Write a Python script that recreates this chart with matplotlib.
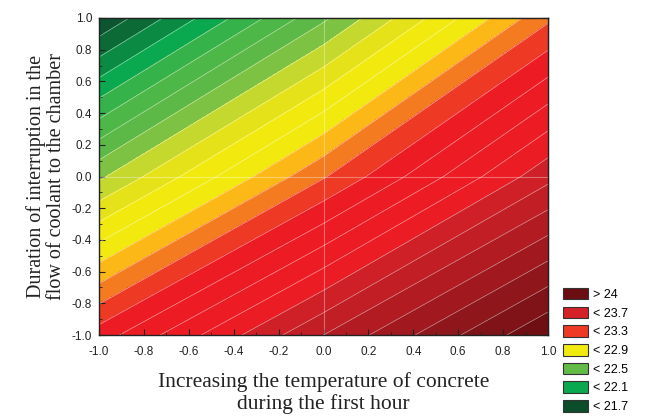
import matplotlib
matplotlib.use("Agg")
import matplotlib.pyplot as plt
from matplotlib.patches import Patch
import numpy as np

# response surface at the design points (-1, 0, 1)
x_nodes = [-1.0, 0.0, 1.0]
y_nodes = [-1.0, 0.0, 1.0]
# rows = y (from -1 to 1), cols = x (from -1 to 1)
z_grid = [
    [23.25, 23.80, 24.29],
    [22.48, 23.09, 23.67],
    [21.71, 22.38, 23.08],
]

levels = [21.6, 21.7, 21.8, 21.9, 22.0, 22.1, 22.2, 22.3, 22.4, 22.5,
          22.6, 22.7, 22.8, 22.9, 23.0, 23.1, 23.2, 23.3, 23.4, 23.5,
          23.6, 23.7, 23.8, 23.9, 24.0, 24.1, 24.2, 24.3, 24.4]
band_colors = ['#0a4526', '#0d5530', '#0c6a37', '#0b8a44', '#0aa84f', '#35b24a',
               '#4db748', '#5cb947', '#7dc242', '#c4d82d', '#e6e21a', '#f2ea0f',
               '#f2ea0f', '#fbb817', '#f47b20', '#ee3a24', '#ed1c24', '#ed1c24',
               '#ed1c24', '#ec1c24', '#cf1f27', '#c21e25', '#b31b22', '#a1191f',
               '#8f161b', '#7f1317', '#6f0f13', '#640c10']

legend_labels = ['> 24', '< 23.7', '< 23.3', '< 22.9', '< 22.5', '< 22.1', '< 21.7']
legend_colors = ['#6b0e12', '#d42027', '#ee3a24', '#f2ea0f', '#62bb46', '#0aa84f', '#0b4d2b']

x_ticks = [-1.0, -0.8, -0.6, -0.4, -0.2, 0.0, 0.2, 0.4, 0.6, 0.8, 1.0]
y_ticks = [-1.0, -0.8, -0.6, -0.4, -0.2, 0.0, 0.2, 0.4, 0.6, 0.8, 1.0]

fig = plt.figure(figsize=(6.48, 4.17), dpi=100)
ax = fig.add_axes([99 / 648, 1 - 335 / 417, 449 / 648, 317 / 417])

X, Y = np.meshgrid(x_nodes, y_nodes)
Z = np.array(z_grid)
ax.contourf(X, Y, Z, levels=levels, colors=band_colors)
ax.contour(X, Y, Z, levels=levels, colors='white', linewidths=0.45, alpha=0.6)

ax.axvline(0, color='white', lw=0.8, alpha=0.35)
ax.axhline(0, color='white', lw=0.8, alpha=0.35)

ax.set_xlim(-1, 1)
ax.set_ylim(-1, 1)
ax.set_xticks(x_ticks)
ax.set_yticks(y_ticks)
ax.set_xticks(np.arange(-0.9, 1.0, 0.2), minor=True)
ax.set_yticks(np.arange(-0.9, 1.0, 0.2), minor=True)
ax.set_xticklabels([f'{v:.1f}' for v in x_ticks])
ax.set_yticklabels([f'{v:.1f}' for v in y_ticks])
ax.tick_params(which='both', direction='in', top=False, right=False,
               labelsize=8.5, colors='#222222', labelcolor='#222222')
ax.tick_params(which='major', length=4, width=0.8)
ax.tick_params(which='minor', length=2.5, width=0.6)
ax.tick_params(axis='x', which='major', pad=8)
ax.tick_params(axis='y', which='major', pad=5)
for lab in ax.get_xticklabels() + ax.get_yticklabels():
    lab.set_fontfamily('Liberation Sans')
for s in ax.spines.values():
    s.set_linewidth(1.0)
    s.set_color('#222222')

# top and right edges carry their own tick spacing
top = ax.secondary_xaxis('top')
top.set_xticks(np.arange(-1, 1.001, 1 / 6))
top.set_xticks(np.arange(-1, 1.001, 1 / 12), minor=True)
top.tick_params(which='both', direction='in', labeltop=False, colors='#222222')
top.tick_params(which='major', length=4, width=0.8)
top.tick_params(which='minor', length=2.5, width=0.6)
right = ax.secondary_yaxis('right')
right.set_yticks(np.arange(-1, 1.001, 1 / 6))
right.set_yticks(np.arange(-1, 1.001, 1 / 12), minor=True)
right.tick_params(which='both', direction='in', labelright=False, colors='#222222')
right.tick_params(which='major', length=4, width=0.8)
right.tick_params(which='minor', length=2.5, width=0.6)

ax.set_xlabel('Increasing the temperature of concrete\nduring the first hour',
              family='Liberation Serif', fontsize=15.5, color='#222222', labelpad=10,
              linespacing=1.15)
ax.set_ylabel('Duration of interruption in the\nflow of coolant to the chamber',
              family='Liberation Serif', fontsize=14.5, color='#222222', labelpad=4,
              linespacing=1.05)

handles = [Patch(facecolor=c, edgecolor='#333333', linewidth=0.8) for c in legend_colors]
fig.legend(handles, legend_labels, loc='lower left', bbox_to_anchor=(0.856, -0.01),
           frameon=False, prop={'family': 'Liberation Sans', 'size': 9},
           handlelength=2.0, handleheight=1.05, labelspacing=0.45,
           handletextpad=0.45, borderpad=0.15)

fig.savefig('out.png', dpi=100)
